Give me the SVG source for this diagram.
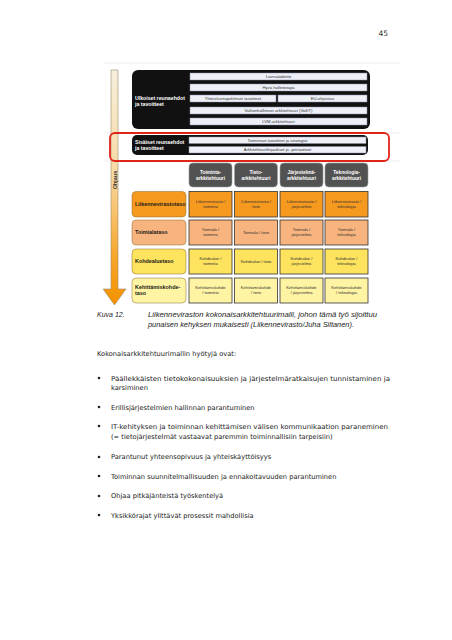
<svg xmlns="http://www.w3.org/2000/svg" width="452" height="640" viewBox="0 0 452 640">
<defs>
<linearGradient id="arrowGrad" x1="0" y1="0" x2="0" y2="1">
<stop offset="0" stop-color="#f6efdc"/>
<stop offset="0.45" stop-color="#f8d9a0"/>
<stop offset="0.8" stop-color="#f7a52a"/>
<stop offset="1" stop-color="#f39200"/>
</linearGradient>
<style>
.bk{fill:#111111}
.wt{fill:#ffffff;font-family:"Liberation Sans",Arial,sans-serif;font-size:5.2px;font-weight:bold}
.ib{fill:#eef0f8;stroke:#8a8fa8;stroke-width:0.5}
.it{fill:#333333;font-family:"Liberation Sans",Arial,sans-serif;font-size:4.2px;text-anchor:middle}
.hd{fill:#525252;stroke:#9a9a9a;stroke-width:0.6}
.ht{fill:#ffffff;font-family:"Liberation Sans",Arial,sans-serif;font-size:4.8px;font-weight:bold;text-anchor:middle}
.cell{stroke:#333333;stroke-width:0.8}
.lab{stroke:#8a6a30;stroke-width:0.5}
.lt{fill:#1a1a1a;font-family:"Liberation Sans",Arial,sans-serif;font-size:5.4px;font-weight:bold}
.ct{fill:#333333;font-family:"Liberation Sans",Arial,sans-serif;font-size:4.1px;text-anchor:middle}
.r1{fill:#f6991f}
.r2{fill:#f8b47e}
.r3{fill:#fee35e}
.r4{fill:#fff4a3}
.grid{stroke:#e2e2e2;stroke-width:0.6}
.cap{fill:#222222;font-family:"Liberation Sans",Arial,sans-serif;font-size:7px;font-style:italic}
.body{fill:#222222;font-family:"DejaVu Sans",Verdana,sans-serif;font-size:6.7px}
</style>
</defs>
<rect width="452" height="640" fill="#ffffff"/>

<text x="388" y="36" text-anchor="end" style="fill:#333;font-family:'DejaVu Sans',Verdana,sans-serif;font-size:7.5px">45</text>

<g id="background-grid">
<line class="grid" x1="104" y1="63" x2="400" y2="63"/>
<line class="grid" x1="104" y1="133" x2="400" y2="133"/>
<line class="grid" x1="104" y1="161" x2="400" y2="161"/>
</g>

<g id="ohjaus-arrow">
<path d="M111,70 L118,70 L118,289 L126,289 L114.5,305 L103,289 L111,289 Z" fill="url(#arrowGrad)" stroke="#9a8a70" stroke-width="0.6"/>
<text x="116.5" y="180" transform="rotate(-90 116.5 180)" text-anchor="middle" style="fill:#333;font-family:'Liberation Sans',Arial,sans-serif;font-size:5.4px;font-weight:bold">Ohjaus</text>
</g>

<g id="ulkoiset">
<rect class="bk" x="132" y="70" width="238" height="59" rx="6"/>
<text class="wt" x="135" y="99.5">Ulkoiset reunaehdot</text>
<text class="wt" x="135" y="105.5">ja tavoitteet</text>
<rect class="ib" x="190" y="73" width="177" height="7"/>
<text class="it" x="278.5" y="78">Lainsäädäntö</text>
<rect class="ib" x="190" y="84" width="177" height="7"/>
<text class="it" x="278.5" y="89">Hyvä hallintotapa</text>
<rect class="ib" x="190" y="95" width="86" height="7"/>
<text class="it" x="233" y="100">Yhteiskuntapoliittiset tavoitteet</text>
<rect class="ib" x="278" y="95" width="89" height="7"/>
<text class="it" x="322.5" y="100">EU-ohjeistus</text>
<rect class="ib" x="190" y="107" width="177" height="7"/>
<text class="it" x="278.5" y="112">Valtionhallinnon arkkitehtuuri (ValtIT)</text>
<rect class="ib" x="190" y="118" width="177" height="7"/>
<text class="it" x="278.5" y="123">LVM-arkkitehtuuri</text>
</g>

<g id="sisaiset">
<rect class="bk" x="132" y="135" width="236" height="20" rx="5"/>
<text class="wt" x="135" y="143.5">Sisäiset reunaehdot</text>
<text class="wt" x="135" y="149.5">ja tavoitteet</text>
<rect class="ib" x="189" y="137" width="177" height="6.5"/>
<text class="it" x="277.5" y="141.7">Toiminnan tavoitteet ja strategiat</text>
<rect class="ib" x="189" y="146.5" width="177" height="6.5"/>
<text class="it" x="277.5" y="151.2">Arkkitehtuurilinjaukset ja -periaatteet</text>
</g>

<g id="red-frame">
<rect x="110" y="133" width="279" height="28" rx="5" fill="none" stroke="#e2231a" stroke-width="1.8"/>
</g>

<g id="headers">
<rect class="hd" x="189" y="163" width="43" height="24" rx="4"/>
<text class="ht" x="210.5" y="173.5">Toiminta-</text>
<text class="ht" x="210.5" y="179.5">arkkitehtuuri</text>
<rect class="hd" x="234.5" y="163" width="43" height="24" rx="4"/>
<text class="ht" x="256" y="173.5">Tieto-</text>
<text class="ht" x="256" y="179.5">arkkitehtuuri</text>
<rect class="hd" x="280" y="163" width="43" height="24" rx="4"/>
<text class="ht" x="301.5" y="173.5">Järjestelmä-</text>
<text class="ht" x="301.5" y="179.5">arkkitehtuuri</text>
<rect class="hd" x="325" y="163" width="43" height="24" rx="4"/>
<text class="ht" x="346.5" y="173.5">Teknologia-</text>
<text class="ht" x="346.5" y="179.5">arkkitehtuuri</text>
</g>

<g id="row-liikennevirasto">
<rect class="r1 lab" x="132" y="191.5" width="54" height="25.5" rx="4"/>
<text class="lt" x="135" y="206">Liikennevirastotaso</text>
<rect class="r1 cell" x="189" y="191.5" width="43" height="25.5"/>
<text class="ct" x="210.5" y="202.5">Liikennevirasto /</text><text class="ct" x="210.5" y="207.5">toiminta</text>
<rect class="r1 cell" x="234.5" y="191.5" width="43" height="25.5"/>
<text class="ct" x="256" y="202.5">Liikennevirasto /</text><text class="ct" x="256" y="207.5">tieto</text>
<rect class="r1 cell" x="280" y="191.5" width="43" height="25.5"/>
<text class="ct" x="301.5" y="202.5">Liikennevirasto /</text><text class="ct" x="301.5" y="207.5">järjestelmä</text>
<rect class="r1 cell" x="325" y="191.5" width="43" height="25.5"/>
<text class="ct" x="346.5" y="202.5">Liikennevirasto /</text><text class="ct" x="346.5" y="207.5">teknologia</text>
</g>

<g id="row-toimiala">
<rect class="r2 lab" x="132" y="220" width="54" height="25" rx="4"/>
<text class="lt" x="135" y="234">Toimialataso</text>
<rect class="r2 cell" x="189" y="220" width="43" height="25"/>
<text class="ct" x="210.5" y="231">Toimiala /</text><text class="ct" x="210.5" y="236">toiminta</text>
<rect class="r2 cell" x="234.5" y="220" width="43" height="25"/>
<text class="ct" x="256" y="234">Toimiala / tieto</text>
<rect class="r2 cell" x="280" y="220" width="43" height="25"/>
<text class="ct" x="301.5" y="231">Toimiala /</text><text class="ct" x="301.5" y="236">järjestelmä</text>
<rect class="r2 cell" x="325" y="220" width="43" height="25"/>
<text class="ct" x="346.5" y="231">Toimiala /</text><text class="ct" x="346.5" y="236">teknologia</text>
</g>

<g id="row-kohdealue">
<rect class="r3 lab" x="132" y="249" width="54" height="25" rx="4"/>
<text class="lt" x="135" y="263">Kohdealuetaso</text>
<rect class="r3 cell" x="189" y="249" width="43" height="25"/>
<text class="ct" x="210.5" y="260">Kohdealue /</text><text class="ct" x="210.5" y="265">toiminta</text>
<rect class="r3 cell" x="234.5" y="249" width="43" height="25"/>
<text class="ct" x="256" y="263">Kohdealue / tieto</text>
<rect class="r3 cell" x="280" y="249" width="43" height="25"/>
<text class="ct" x="301.5" y="260">Kohdealue /</text><text class="ct" x="301.5" y="265">järjestelmä</text>
<rect class="r3 cell" x="325" y="249" width="43" height="25"/>
<text class="ct" x="346.5" y="260">Kohdealue /</text><text class="ct" x="346.5" y="265">teknologia</text>
</g>

<g id="row-kehittamiskohde">
<rect class="r4 lab" x="132" y="278" width="54" height="25" rx="4"/>
<text class="lt" x="135" y="289">Kehittämiskohde-</text>
<text class="lt" x="135" y="295">taso</text>
<rect class="r4 cell" x="189" y="278" width="43" height="25"/>
<text class="ct" x="210.5" y="289">Kehittämiskohde</text><text class="ct" x="210.5" y="294">/ toiminta</text>
<rect class="r4 cell" x="234.5" y="278" width="43" height="25"/>
<text class="ct" x="256" y="289">Kehittämiskohde</text><text class="ct" x="256" y="294">/ tieto</text>
<rect class="r4 cell" x="280" y="278" width="43" height="25"/>
<text class="ct" x="301.5" y="289">Kehittämiskohde</text><text class="ct" x="301.5" y="294">/ järjestelmä</text>
<rect class="r4 cell" x="325" y="278" width="43" height="25"/>
<text class="ct" x="346.5" y="289">Kehittämiskohde</text><text class="ct" x="346.5" y="294">/ teknologia</text>
</g>

<g id="caption">
<text class="cap" x="97" y="316.5">Kuva 12.</text>
<text class="cap" x="148" y="316.5" textLength="229" lengthAdjust="spacingAndGlyphs">Liikenneviraston kokonaisarkkitehtuurimalli, johon tämä työ sijoittuu</text>
<text class="cap" x="148" y="326.5" textLength="206" lengthAdjust="spacingAndGlyphs">punaisen kehyksen mukaisesti (Liikennevirasto/Juha Siltanen).</text>
</g>

<g id="body-text">
<text class="body" x="97" y="356">Kokonaisarkkitehtuurimallin hyötyjä ovat:</text>
<g fill="#222">
<circle cx="99" cy="378" r="1.3"/>
<circle cx="99" cy="407" r="1.3"/>
<circle cx="99" cy="426" r="1.3"/>
<circle cx="99" cy="457" r="1.3"/>
<circle cx="99" cy="476" r="1.3"/>
<circle cx="99" cy="496" r="1.3"/>
<circle cx="99" cy="515" r="1.3"/>
</g>
<text class="body" x="111" y="380.5" textLength="279" lengthAdjust="spacingAndGlyphs">Päällekkäisten tietokokonaisuuksien ja järjestelmäratkaisujen tunnistaminen ja</text>
<text class="body" x="111" y="390">karsiminen</text>
<text class="body" x="111" y="409.5">Erillisjärjestelmien hallinnan parantuminen</text>
<text class="body" x="111" y="428.5" textLength="277" lengthAdjust="spacingAndGlyphs">IT-kehityksen ja toiminnan kehittämisen välisen kommunikaation paraneminen</text>
<text class="body" x="111" y="438.5">(= tietojärjestelmät vastaavat paremmin toiminnallisiin tarpeisiin)</text>
<text class="body" x="111" y="459">Parantunut yhteensopivuus ja yhteiskäyttöisyys</text>
<text class="body" x="111" y="478.5">Toiminnan suunnitelmallisuuden ja ennakoitavuuden parantuminen</text>
<text class="body" x="111" y="498">Ohjaa pitkäjänteistä työskentelyä</text>
<text class="body" x="111" y="517.5">Yksikkörajat ylittävät prosessit mahdollisia</text>
</g>
</svg>
